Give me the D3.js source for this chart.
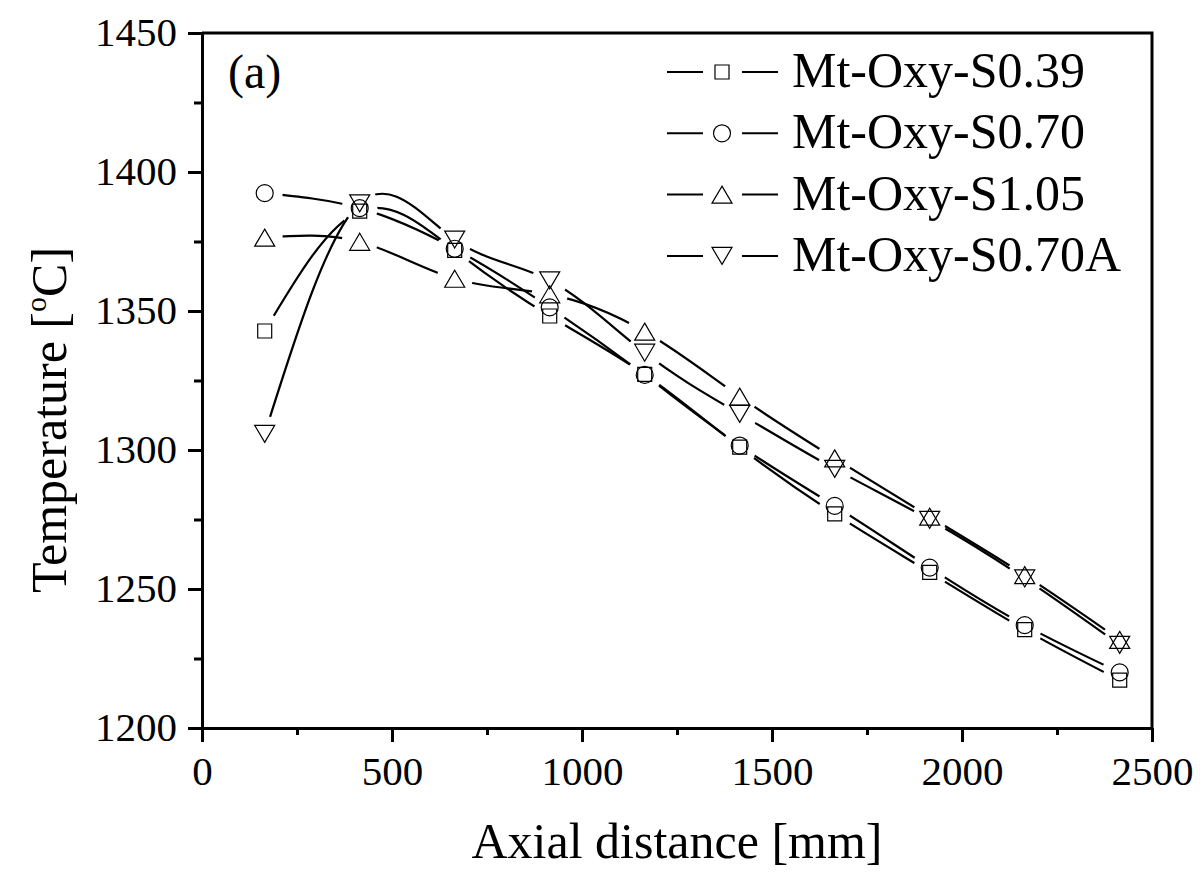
<!DOCTYPE html>
<html lang="en">
<head>
  <meta charset="UTF-8">
  <title>Axial temperature profiles</title>
  <script src="https://d3js.org/d3.v7.min.js"></script>
  <style>
    body,
    html {
      margin: 0;
      padding: 0;
      overflow: hidden;
      background: #fff;
    }
    text {
      font-family: "Liberation Serif", "Times New Roman", serif;
      fill: #000;
    }
  </style>
</head>
<body>
  <script>
    // data
    const axialDistance = [165, 415, 665, 915, 1165, 1415, 1665, 1915, 2165, 2415];
    const tempS039 = [1342.8, 1385.9, 1371.8, 1348.2, 1327.2, 1301.0, 1277.0, 1256.0, 1235.4, 1217.2];
    const tempS070 = [1392.4, 1387.0, 1372.4, 1351.3, 1327.0, 1301.6, 1279.9, 1257.7, 1237.0, 1220.0];
    const tempS105 = [1376.4, 1374.9, 1361.6, 1356.0, 1342.6, 1319.2, 1297.0, 1276.0, 1255.0, 1231.7];
    const tempS070A = [1305.8, 1388.7, 1375.7, 1361.0, 1335.0, 1313.0, 1293.2, 1274.9, 1253.8, 1229.9];

    const seriesNames = ["Mt-Oxy-S0.39", "Mt-Oxy-S0.70", "Mt-Oxy-S1.05", "Mt-Oxy-S0.70A"];
    const seriesSymbols = ["square", "circle", "triangleUp", "triangleDown"];
    const xMajorTicks = [0, 500, 1000, 1500, 2000, 2500];
    const xMinorTicks = [250, 750, 1250, 1750, 2250];
    const yMajorTicks = [1200, 1250, 1300, 1350, 1400, 1450];
    const yMinorTicks = [1225, 1275, 1325, 1375, 1425];

    const series = [tempS039, tempS070, tempS105, tempS070A].map((vals, i) => ({
      name: seriesNames[i],
      symbol: seriesSymbols[i],
      values: vals
    }));

    const W = 1200, H = 877;
    const margin = { top: 33, right: 48, bottom: 149, left: 202 };

    const svg = d3.select("body").append("svg")
      .attr("width", W)
      .attr("height", H);

    const x = d3.scaleLinear().domain([0, 2500]).range([margin.left, W - margin.right]);
    const y = d3.scaleLinear().domain([1200, 1450]).range([H - margin.bottom, margin.top]);

    // marker shapes, centred on their bounding box
    function symbolPath(type) {
      if (type === "square") return "M-7,-7H7V7H-7Z";
      if (type === "circle") return "M8.5,0A8.5,8.5 0 1,1 -8.5,0A8.5,8.5 0 1,1 8.5,0Z";
      if (type === "triangleUp") return "M0,-8.5L10,8.5L-10,8.5Z";
      return "M0,8.5L10,-8.5L-10,-8.5Z";
    }

    // each line stops short of its own markers
    const gapR = 18;
    const defs = svg.append("defs");
    series.forEach((s, i) => {
      const m = defs.append("mask")
        .attr("id", "gap" + i)
        .attr("maskUnits", "userSpaceOnUse")
        .attr("x", 0).attr("y", 0).attr("width", W).attr("height", H);
      m.append("rect").attr("width", W).attr("height", H).attr("fill", "white");
      m.selectAll("circle")
        .data(s.values)
        .join("circle")
        .attr("cx", (d, j) => x(axialDistance[j]))
        .attr("cy", d => y(d))
        .attr("r", gapR)
        .attr("fill", "black");
    });

    const line = d3.line()
      .x((d, j) => x(axialDistance[j]))
      .y(d => y(d))
      .curve(d3.curveNatural);

    const plot = svg.append("g");

    series.forEach((s, i) => {
      plot.append("path")
        .datum(s.values)
        .attr("d", line)
        .attr("fill", "none")
        .attr("stroke", "#000")
        .attr("stroke-width", 2.2)
        .attr("mask", "url(#gap" + i + ")");
    });

    series.forEach(s => {
      plot.selectAll(null)
        .data(s.values)
        .join("path")
        .attr("d", symbolPath(s.symbol))
        .attr("transform", (d, j) => `translate(${x(axialDistance[j])},${y(d)})`)
        .attr("fill", "none")
        .attr("stroke", "#000")
        .attr("stroke-width", 1.2);
    });

    // frame (top and right)
    svg.append("path")
      .attr("d", `M${x(0)},${y(1450)}H${x(2500)}V${y(1200)}`)
      .attr("fill", "none")
      .attr("stroke", "#000")
      .attr("stroke-width", 3);

    // axes
    const xAxis = svg.append("g")
      .attr("transform", `translate(0,${y(1200)})`)
      .call(d3.axisBottom(x).tickValues(xMajorTicks).tickSize(14).tickSizeOuter(0).tickFormat(d3.format("d")));
    svg.append("g")
      .attr("transform", `translate(0,${y(1200)})`)
      .call(d3.axisBottom(x).tickValues(xMinorTicks).tickSize(7).tickSizeOuter(0).tickFormat(""))
      .select(".domain").remove();

    const yAxis = svg.append("g")
      .attr("transform", `translate(${x(0)},0)`)
      .call(d3.axisLeft(y).tickValues(yMajorTicks).tickSize(14).tickSizeOuter(0).tickFormat(d3.format("d")));
    svg.append("g")
      .attr("transform", `translate(${x(0)},0)`)
      .call(d3.axisLeft(y).tickValues(yMinorTicks).tickSize(8).tickSizeOuter(0).tickFormat(""))
      .select(".domain").remove();

    svg.selectAll(".domain, .tick line")
      .attr("stroke", "#000")
      .attr("stroke-width", 3);

    xAxis.selectAll("text")
      .attr("y", 57)
      .attr("dy", 0)
      .attr("font-size", 41)
      .attr("font-family", "Liberation Serif");
    yAxis.selectAll("text")
      .attr("x", -25)
      .attr("dy", 12)
      .attr("font-size", 41)
      .attr("font-family", "Liberation Serif");

    // axis titles
    svg.append("text")
      .attr("x", (x(0) + x(2500)) / 2)
      .attr("y", 858)
      .attr("text-anchor", "middle")
      .attr("font-size", 50)
      .text("Axial distance [mm]");

    const yTitle = svg.append("text")
      .attr("transform", "translate(66,420) rotate(-90)")
      .attr("text-anchor", "middle")
      .attr("font-size", 50);
    yTitle.append("tspan").text("Temperature [");
    yTitle.append("tspan").attr("font-size", 30).attr("dy", -20).text("o");
    yTitle.append("tspan").attr("dy", 20).text("C]");

    // panel label
    svg.append("text")
      .attr("x", 228)
      .attr("y", 88)
      .attr("font-size", 48)
      .text("(a)");

    // legend
    const legend = svg.append("g");
    series.forEach((s, i) => {
      const cy = 72 + i * 61.3;
      legend.append("line")
        .attr("x1", 667).attr("x2", 703).attr("y1", cy).attr("y2", cy)
        .attr("stroke", "#000").attr("stroke-width", 2);
      legend.append("line")
        .attr("x1", 742).attr("x2", 778).attr("y1", cy).attr("y2", cy)
        .attr("stroke", "#000").attr("stroke-width", 2);
      legend.append("path")
        .attr("d", symbolPath(s.symbol))
        .attr("transform", `translate(722,${cy})`)
        .attr("fill", "none")
        .attr("stroke", "#000")
        .attr("stroke-width", 1.2);
      legend.append("text")
        .attr("x", 792)
        .attr("y", cy + 15)
        .attr("font-size", 50)
        .text(s.name);
    });
  </script>
</body>
</html>
